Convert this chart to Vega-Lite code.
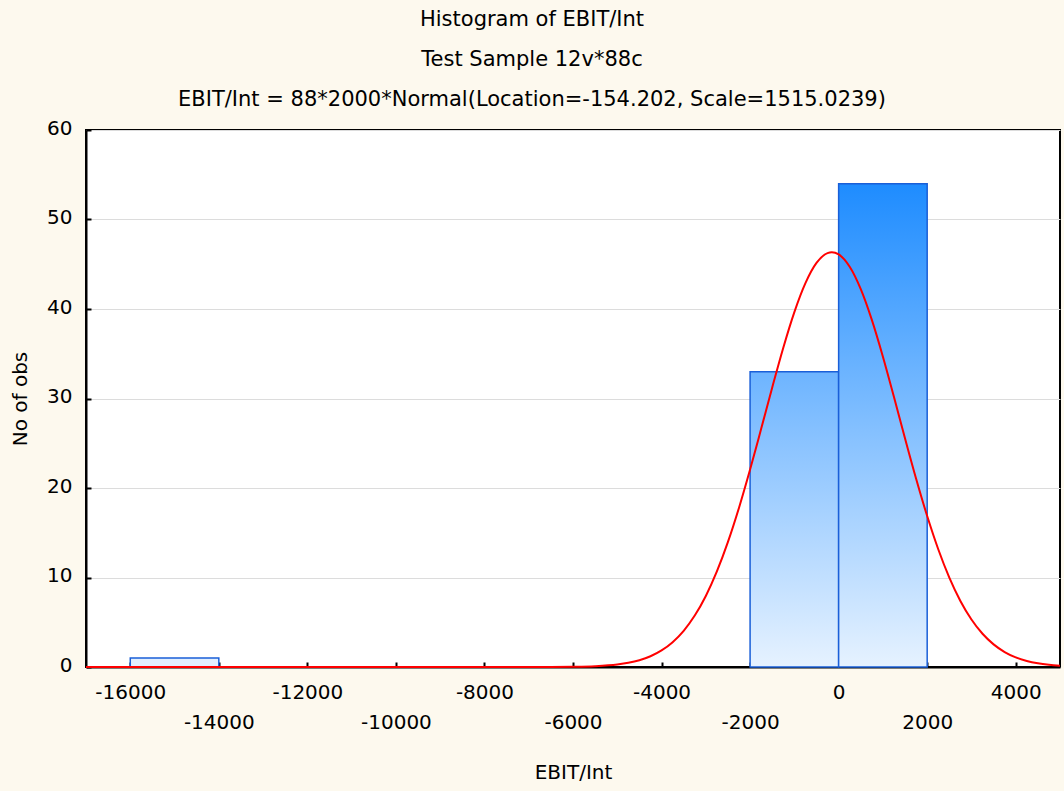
{
  "$schema": "https://vega.github.io/schema/vega-lite/v6.json",
  "width": 974,
  "height": 537,
  "autosize": {"type": "none"},
  "padding": {"left": 86, "top": 130, "right": 4, "bottom": 124},
  "background": "#fdf9ee",
  "config": {
    "view": {"fill": "white", "stroke": "black", "strokeWidth": 2},
    "axis": {"labelFont": "DejaVu Sans", "labelFontSize": 20, "labelColor": "black", "titleFont": "DejaVu Sans", "titleFontSize": 20, "titleFontWeight": "normal", "titleColor": "black", "domainColor": "black", "domainWidth": 2, "tickColor": "black", "tickWidth": 2}
  },
  "title": {
    "text": ["Histogram of EBIT/Int", "Test Sample 12v*88c", "EBIT/Int = 88*2000*Normal(Location=-154.202, Scale=1515.0239)"],
    "font": "DejaVu Sans",
    "fontSize": 21,
    "fontWeight": "normal",
    "color": "black",
    "lineHeight": 40,
    "anchor": "middle",
    "dx": -41,
    "offset": 8
  },
  "datasets": {
    "bins": [
      {"start": -16000, "end": -14000, "count": 1},
      {"start": -2000, "end": 0, "count": 33},
      {"start": 0, "end": 2000, "count": 54}
    ],
    "curve": [
      {"v": -17000, "f": 0},
      {"v": -12000, "f": 0},
      {"v": -8000, "f": 0},
      {"v": -7000, "f": 0.0017},
      {"v": -6500, "f": 0.0072},
      {"v": -6000, "f": 0.0271},
      {"v": -5500, "f": 0.0917},
      {"v": -5000, "f": 0.278},
      {"v": -4750, "f": 0.465},
      {"v": -4500, "f": 0.757},
      {"v": -4250, "f": 1.199},
      {"v": -4000, "f": 1.849},
      {"v": -3750, "f": 2.771},
      {"v": -3500, "f": 4.045},
      {"v": -3250, "f": 5.745},
      {"v": -3000, "f": 7.939},
      {"v": -2750, "f": 10.678},
      {"v": -2500, "f": 13.975},
      {"v": -2250, "f": 17.801},
      {"v": -2000, "f": 22.062},
      {"v": -1750, "f": 26.609},
      {"v": -1500, "f": 31.231},
      {"v": -1250, "f": 35.674},
      {"v": -1000, "f": 39.653},
      {"v": -750, "f": 42.892},
      {"v": -500, "f": 45.149},
      {"v": -250, "f": 46.247},
      {"v": -154, "f": 46.34},
      {"v": 0, "f": 46.1},
      {"v": 250, "f": 44.72},
      {"v": 500, "f": 42.215},
      {"v": 750, "f": 38.78},
      {"v": 1000, "f": 34.668},
      {"v": 1250, "f": 30.159},
      {"v": 1500, "f": 25.532},
      {"v": 1750, "f": 21.034},
      {"v": 2000, "f": 16.864},
      {"v": 2250, "f": 13.156},
      {"v": 2500, "f": 9.988},
      {"v": 2750, "f": 7.379},
      {"v": 3000, "f": 5.306},
      {"v": 3250, "f": 3.712},
      {"v": 3500, "f": 2.527},
      {"v": 3750, "f": 1.674},
      {"v": 4000, "f": 1.08},
      {"v": 4250, "f": 0.678},
      {"v": 4500, "f": 0.414},
      {"v": 4750, "f": 0.246},
      {"v": 5000, "f": 0.142}
    ]
  },
  "layer": [
    {
      "data": {"name": "bins"},
      "mark": {"type": "bar", "stroke": "#1a5fd8", "strokeWidth": 1.5},
      "encoding": {
        "x": {
          "field": "start", "type": "quantitative",
          "scale": {"domain": [-17000, 5000], "nice": false, "zero": false},
          "axis": {
            "values": [-16000, -14000, -12000, -10000, -8000, -6000, -4000, -2000, 0, 2000, 4000],
            "labelExpr": "(datum.value / 2000) % 2 == 0 ? ('' + datum.value) : ['', '' + datum.value]",
            "labelOverlap": false,
            "labelFlush": false,
            "labelLineHeight": 30,
            "labelPadding": 20,
            "tickSize": -5,
            "grid": false,
            "title": "EBIT/Int",
            "titlePadding": 30
          }
        },
        "x2": {"field": "end"},
        "y": {
          "field": "count", "type": "quantitative",
          "scale": {"domain": [0, 60], "nice": false},
          "axis": {
            "values": [0, 10, 20, 30, 40, 50, 60],
            "grid": true,
            "gridColor": "#dcdcdc",
            "gridWidth": 1,
            "tickSize": -5,
            "labelPadding": 19,
            "labelOffset": -2,
            "title": "No of obs",
            "titlePadding": 16
          }
        },
        "y2": {"datum": 0},
        "fill": {
          "condition": [
            {"test": "datum.count > 40", "value": {"gradient": "linear", "x1": 0, "y1": 1, "x2": 0, "y2": 0, "stops": [{"offset": 0, "color": "#e6f2ff"}, {"offset": 1, "color": "#1e8cff"}]}},
            {"test": "datum.count > 10", "value": {"gradient": "linear", "x1": 0, "y1": 1, "x2": 0, "y2": 0, "stops": [{"offset": 0, "color": "#e6f2ff"}, {"offset": 1, "color": "#6db4ff"}]}}
          ],
          "value": "#e2efff"
        }
      }
    },
    {
      "data": {"name": "curve"},
      "mark": {"type": "line", "color": "#ff0000", "strokeWidth": 2, "interpolate": "monotone"},
      "encoding": {
        "x": {"field": "v", "type": "quantitative"},
        "y": {"field": "f", "type": "quantitative"}
      }
    }
  ]
}
